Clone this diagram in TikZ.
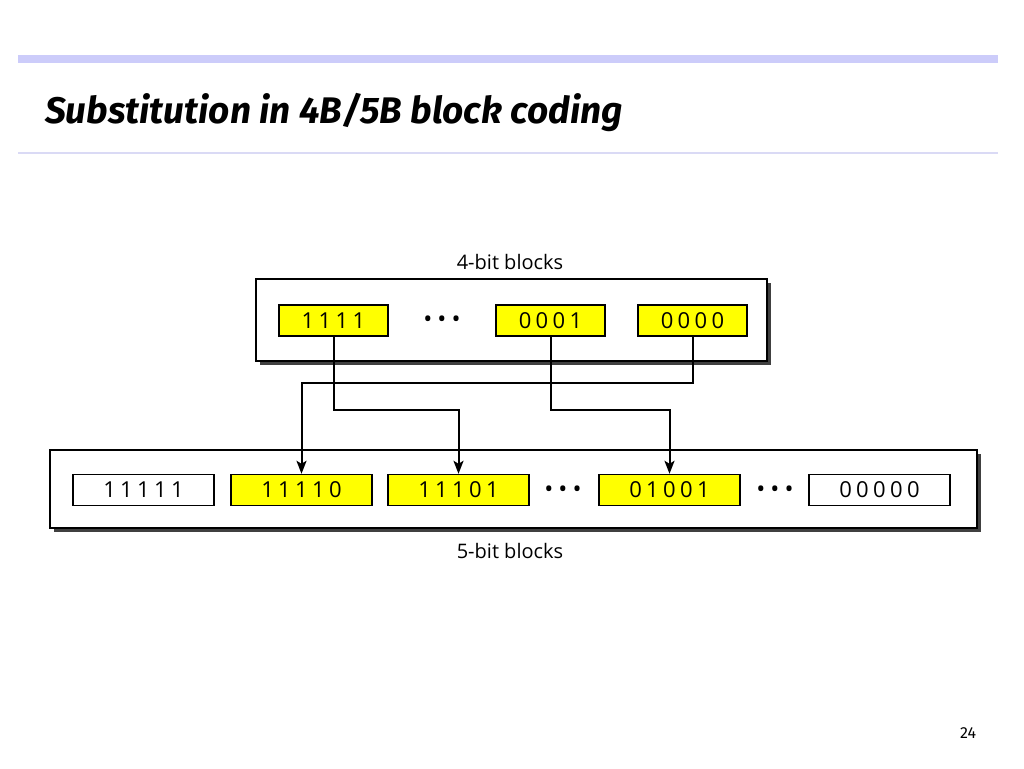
\documentclass[tikz,border=0pt]{standalone}
\usepackage{fontspec}
\setmainfont{Fira Sans}
\newfontfamily\labelfont{Open Sans}
\usetikzlibrary{arrows.meta,positioning,shadows}
\definecolor{barblue}{RGB}{204,204,250}
\definecolor{linelav}{RGB}{218,218,245}
\definecolor{codeyellow}{RGB}{255,255,0}
\tikzset{every shadow/.style={fill=black!75,opacity=1,shadow xshift=4pt,shadow yshift=-4pt}}
\tikzset{frame/.style={draw=black,line width=1.5pt,fill=white,drop shadow}}
\tikzset{codebox/.style={draw=black,line width=1.4pt,minimum height=31pt,inner sep=0pt,
  font=\labelfont\fontsize{22}{22}\selectfont\addfontfeature{LetterSpace=20}}}
\tikzset{fourbit/.style={codebox,fill=codeyellow,minimum width=109pt}}
\tikzset{fivebit/.style={codebox,minimum width=141pt}}
\tikzset{dots/.style={font=\labelfont\fontsize{24}{24}\selectfont}}
\tikzset{caption/.style={font=\labelfont\fontsize{20}{20}\selectfont}}
\tikzset{link/.style={-{Stealth[length=13pt,width=10pt,inset=3pt]},line width=2pt}}
\newcommand{\threedots}{\textbullet\hspace{5pt}\textbullet\hspace{5pt}\textbullet}
\begin{document}
\begin{tikzpicture}[x=1pt,y=-1pt]
\useasboundingbox[fill=white] (0,0) rectangle (1024,768);
% \draw[help lines] (0,0) grid (1024,768);
\fill[barblue] (18,55) rectangle (998,63);
\fill[linelav] (18,152) rectangle (998,154);
\node (title) [anchor=base west,inner sep=0pt,font=\fontsize{37}{37}\selectfont\bfseries\itshape] at (45,123) {Substitution in 4B/5B block coding};
%
\node (top) [frame,minimum width=511pt,minimum height=82pt] at (511.5,320) {};
\node (bot) [frame,minimum width=927pt,minimum height=78pt] at (513.5,489) {};
\node (lbl4) [caption] at (510,262) {4-bit blocks};
\node (lbl5) [caption] at (510,551) {5-bit blocks};
%
\node (a) [fourbit] at (333.5,320.5) {1111};
\node (da) [dots] at (442,322) {\threedots};
\node (b) [fourbit] at (550.5,320.5) {0001};
\node (c) [fourbit] at (692.5,320.5) {0000};
%
\node (p) [fivebit] at (143.5,490) {11111};
\node (q) [fivebit,fill=codeyellow] at (301.5,490) {11110};
\node (r) [fivebit,fill=codeyellow] at (458.5,490) {11101};
\node (dq) [dots] at (563,492) {\threedots};
\node (s) [fivebit,fill=codeyellow] at (669.5,490) {01001};
\node (ds) [dots] at (775,492) {\threedots};
\node (t) [fivebit] at (879.5,490) {00000};
%
\coordinate (ca) at (333,410);
\coordinate (cb) at (550,410);
\coordinate (cc) at (692,383);
\draw[link] (c.south) |- (cc) -| (q.north);
\draw[link] (a.south) |- (ca) -| (r.north);
\draw[link] (b.south) |- (cb) -| (s.north);
%
\node (page) [font=\fontsize{16}{16}\selectfont] at (968,733) {24};
\end{tikzpicture}
\end{document}
